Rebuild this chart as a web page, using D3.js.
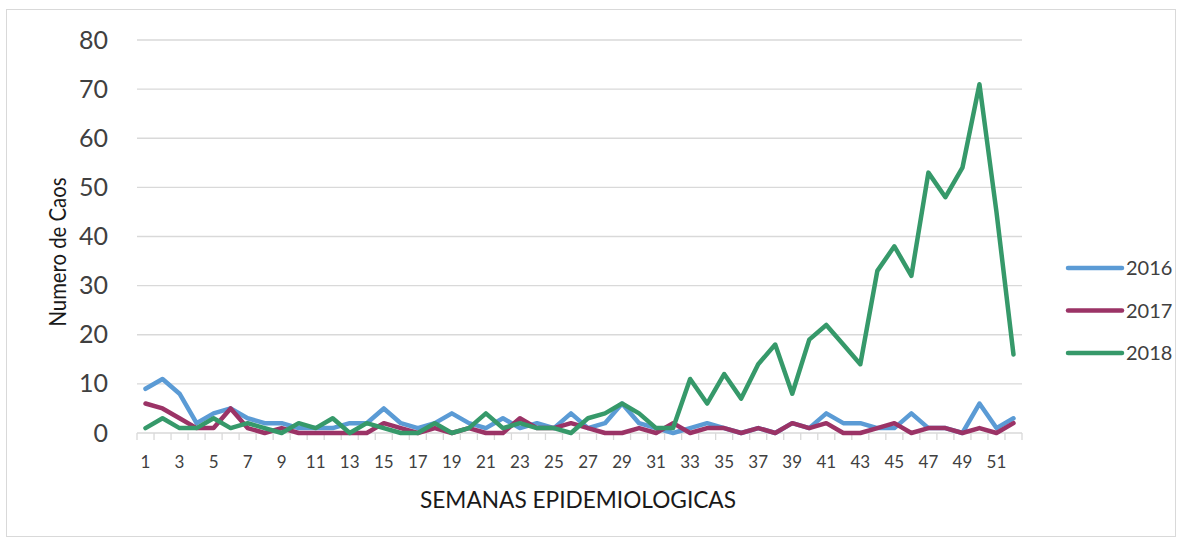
<!DOCTYPE html>
<html>
<head>
<meta charset="utf-8">
<script src="https://cdn.jsdelivr.net/npm/d3@7"></script>
<style>
  body { margin: 0; background: #fff; }
  svg { display: block; }
</style>
</head>
<body>
<div id="chart"></div>
<script>
/* Chart data: weekly case counts per year */
const weeks = d3.range(1, 53);
const years = ["2016", "2017", "2018"];
const cases2016 = [9, 11, 8, 2, 4, 5, 3, 2, 2, 1, 1, 1, 2, 2, 5, 2, 1, 2, 4, 2, 1, 3, 1, 2, 1, 4,
  1, 2, 6, 2, 1, 0, 1, 2, 1, 0, 1, 0, 2, 1, 4, 2, 2, 1, 1, 4, 1, 1, 0, 6, 1, 3];
const cases2017 = [6, 5, 3, 1, 1, 5, 1, 0, 1, 0, 0, 0, 0, 0, 2, 1, 0, 1, 0, 1, 0, 0, 3, 1, 1, 2,
  1, 0, 0, 1, 0, 2, 0, 1, 1, 0, 1, 0, 2, 1, 2, 0, 0, 1, 2, 0, 1, 1, 0, 1, 0, 2];
const cases2018 = [1, 3, 1, 1, 3, 1, 2, 1, 0, 2, 1, 3, 0, 2, 1, 0, 0, 2, 0, 1, 4, 1, 2, 1, 1, 0,
  3, 4, 6, 4, 1, 1, 11, 6, 12, 7, 14, 18, 8, 19, 22, 18, 14, 33, 38, 32, 53, 48, 54, 71, 45, 16];
const yTicks = [0, 10, 20, 30, 40, 50, 60, 70, 80];

const series = [
  {name: years[0], values: cases2016},
  {name: years[1], values: cases2017},
  {name: years[2], values: cases2018}
];

const width = 1182, height = 542;
const margins = {top: 40, right: 160, bottom: 109, left: 137};
const font = "Lato, 'Open Sans', sans-serif";

const colors = d3.scaleOrdinal()
  .domain(years)
  .range(["#5B9BD5", "#9B3366", "#36996A"]);

const svg = d3.select("#chart")
  .append("svg")
  .attr("width", width)
  .attr("height", height);

/* Chart frame */
svg.append("rect")
  .attr("x", 6.5).attr("y", 9.5)
  .attr("width", 1169).attr("height", 527)
  .attr("fill", "#fff")
  .attr("stroke", "#d9d9d9");

/* Scales */
const xScale = d3.scaleBand()
  .domain(weeks)
  .range([margins.left, width - margins.right])
  .paddingInner(0).paddingOuter(0);

const yScale = d3.scaleLinear()
  .domain([0, 80])
  .range([height - margins.bottom, margins.top]);

/* Gridlines */
svg.append("g")
  .selectAll("line")
  .data(yTicks.filter(d => d > 0))
  .join("line")
    .attr("x1", xScale.range()[0])
    .attr("x2", xScale.range()[1])
    .attr("y1", d => yScale(d))
    .attr("y2", d => yScale(d))
    .attr("stroke", "#d9d9d9")
    .attr("stroke-width", 1.3);

/* Y axis labels */
const yAxis = d3.axisLeft(yScale).tickValues(yTicks).tickSize(0).tickPadding(29);
svg.append("g")
  .attr("transform", `translate(${margins.left}, 0)`)
  .call(yAxis)
  .call(g => g.select(".domain").remove())
  .call(g => g.selectAll("text")
    .style("font-family", font)
    .style("font-size", "25px")
    .attr("fill", "#404040"));

/* X axis with tick marks at category boundaries */
const xGroup = svg.append("g")
  .attr("transform", `translate(0, ${yScale(0)})`);

xGroup.append("line")
  .attr("x1", xScale.range()[0]).attr("x2", xScale.range()[1])
  .attr("stroke", "#d9d9d9").attr("stroke-width", 1.3);

xGroup.selectAll("line.tick")
  .data(weeks.concat([53]))
  .join("line")
    .attr("class", "tick")
    .attr("x1", d => d <= 52 ? xScale(d) : xScale.range()[1])
    .attr("x2", d => d <= 52 ? xScale(d) : xScale.range()[1])
    .attr("y1", 0).attr("y2", 7)
    .attr("stroke", "#d9d9d9").attr("stroke-width", 1.3);

xGroup.selectAll("text")
  .data(weeks.filter(d => d % 2 === 1))
  .join("text")
    .attr("x", d => xScale(d) + xScale.bandwidth() / 2)
    .attr("y", 35)
    .attr("text-anchor", "middle")
    .style("font-family", font)
    .style("font-size", "17px")
    .attr("fill", "#404040")
    .text(d => d);

/* Lines */
const line = d3.line()
  .x((d, i) => xScale(weeks[i]) + xScale.bandwidth() / 2)
  .y(d => yScale(d));

svg.append("g")
  .selectAll("path")
  .data(series)
  .join("path")
    .attr("d", d => line(d.values))
    .attr("fill", "none")
    .attr("stroke", d => colors(d.name))
    .attr("stroke-width", 4.5)
    .attr("stroke-linejoin", "round")
    .attr("stroke-linecap", "round");

/* Axis titles */
svg.append("text")
  .attr("x", 578).attr("y", 508)
  .attr("text-anchor", "middle")
  .attr("textLength", 316)
  .attr("lengthAdjust", "spacingAndGlyphs")
  .style("font-family", font)
  .style("font-size", "24px")
  .attr("fill", "#1a1a1a")
  .text("SEMANAS EPIDEMIOLOGICAS");

svg.append("text")
  .attr("transform", "translate(66, 252) rotate(-90)")
  .attr("text-anchor", "middle")
  .attr("textLength", 149)
  .attr("lengthAdjust", "spacingAndGlyphs")
  .style("font-family", font)
  .style("font-size", "23px")
  .attr("fill", "#1a1a1a")
  .text("Numero de Caos");

/* Legend */
const legend = svg.append("g")
  .selectAll("g")
  .data(years)
  .join("g")
    .attr("transform", (d, i) => `translate(1068, ${268 + i * 42.5})`);

legend.append("line")
  .attr("x1", 0).attr("x2", 54)
  .attr("stroke", d => colors(d))
  .attr("stroke-width", 4.5)
  .attr("stroke-linecap", "round");

legend.append("text")
  .attr("x", 58).attr("dy", "0.36em")
  .style("font-family", font)
  .style("font-size", "20px")
  .attr("fill", "#404040")
  .text(d => d);
</script>
</body>
</html>
